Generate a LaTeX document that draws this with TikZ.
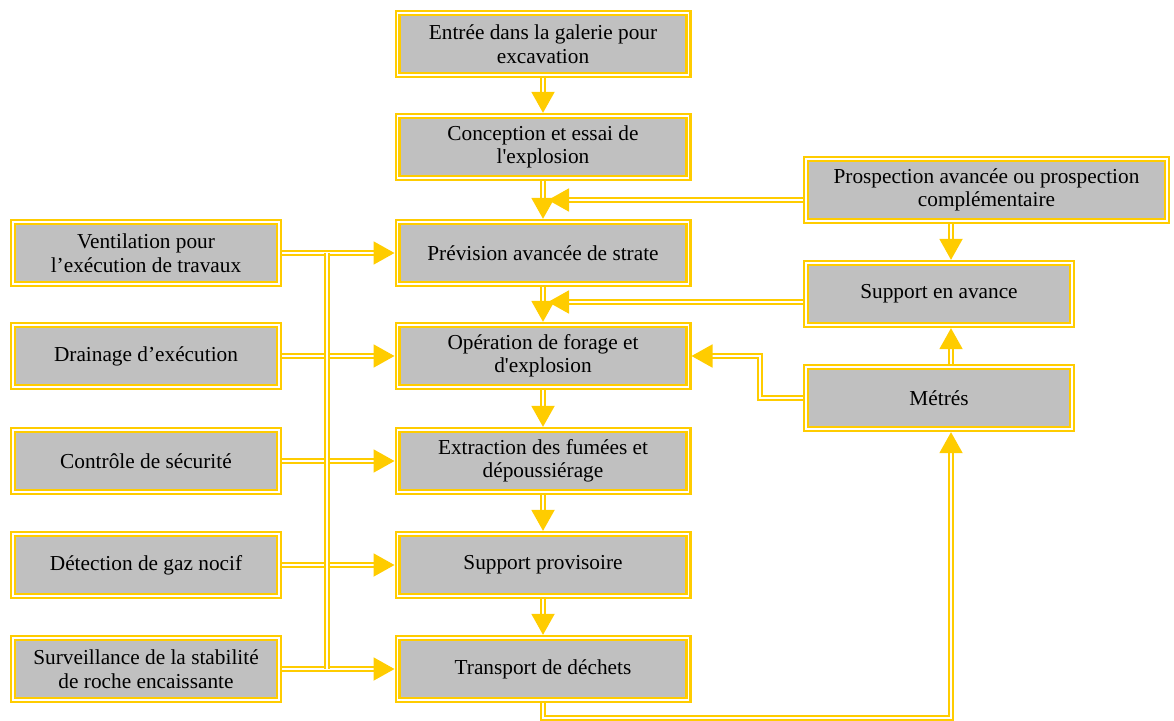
\documentclass[tikz,border=0pt]{standalone}
\usepackage{fontspec}
\setmainfont{Liberation Serif}[Ligatures=TeXOff]
\usepackage{tikz}
\usetikzlibrary{
  arrows.meta,
  calc,
  positioning}
\definecolor{gvgold}{HTML}{FFCC00}
\definecolor{gvgray}{HTML}{C0C0C0}

\begin{document}
\begin{tikzpicture}[x=1pt, y=-1pt,
    box/.style={draw=gvgold, line width=2.4pt, double=white, double distance=1.5pt,
        fill=gvgray, minimum height=62pt, inner sep=0pt, outer sep=3.15pt,
        align=center, font=\fontsize{21.3}{23.5}\selectfont},
    midbox/.style={box, minimum width=290.7pt},
    sidebox/.style={box, minimum width=265.7pt},
    flow/.style={draw=gvgold, line width=1.9pt, double=white, double distance=2pt},
    tip/.style={flow, -{Triangle[length=21pt, width=23pt]}}]
        \useasboundingbox (0,0) rectangle (1174,720);

        % main sequence
        \node[midbox] (entree) at (543,44) {Entrée dans la galerie pour\\excavation};
        \node[midbox] (concep) at (543,147) {Conception et essai de\\l'explosion};
        \node[midbox] (prevst) at (543,253) {Prévision avancée de strate};
        \node[midbox] (operfo) at (543,356) {Opération de forage et\\d'explosion};
        \node[midbox] (extrac) at (543,461) {Extraction des fumées et\\dépoussiérage};
        \node[midbox] (supprov) at (543,565) {Support provisoire};
        \node[midbox] (transp) at (543,669) {Transport de déchets};

        % side tasks
        \node[sidebox] (ventil) at (146,253) {Ventilation pour\\l’exécution de travaux};
        \node[sidebox] (drain) at (146,356) {Drainage d’exécution};
        \node[sidebox] (secur) at (146,461) {Contrôle de sécurité};
        \node[sidebox] (gaznoc) at (146,565) {Détection de gaz nocif};
        \node[sidebox] (stabil) at (146,669) {Surveillance de la stabilité\\de roche encaissante};

        \node[box, minimum width=360.7pt] (prosp) at (986.5,190) {Prospection avancée ou prospection\\complémentaire};
        \node[sidebox] (supav) at (939,294) {Support en avance};
        \node[sidebox] (metres) at (939,398) {Métrés};

        \foreach \a/\b in {entree/concep, concep/prevst, prevst/operfo,
                           operfo/extrac, extrac/supprov, supprov/transp} {
            \draw[tip] (\a) -- (\b);
        }
        \foreach \a/\b in {ventil/prevst, drain/operfo, secur/extrac,
                           gaznoc/supprov, stabil/transp} {
            \draw[tip] (\a) -- (\b);
        }
        \draw[flow] (ventil.east -| 327,0) -- (stabil.east -| 327,0);

        \coordinate (pjoin) at ([yshift=-10pt]prosp.west -| 548,0);
        \coordinate (sjoin) at ([yshift=-8pt]supav.west -| 548,0);
        \draw[tip] ([yshift=-10pt]prosp.west) -- (pjoin);
        \draw[tip] ([yshift=-8pt]supav.west) -- (sjoin);
        \draw[tip] (metres.west) -- (metres.west -| 760,0) |- (operfo.east);

        \draw[tip] (prosp.south -| 951,0) -- (supav.north -| 951,0);
        \draw[tip] (metres.north -| 951,0) -- (supav.south -| 951,0);
        \draw[tip] (transp.south) |- (951,718) -- (metres.south -| 951,0);
    \end{tikzpicture}
\end{document}
